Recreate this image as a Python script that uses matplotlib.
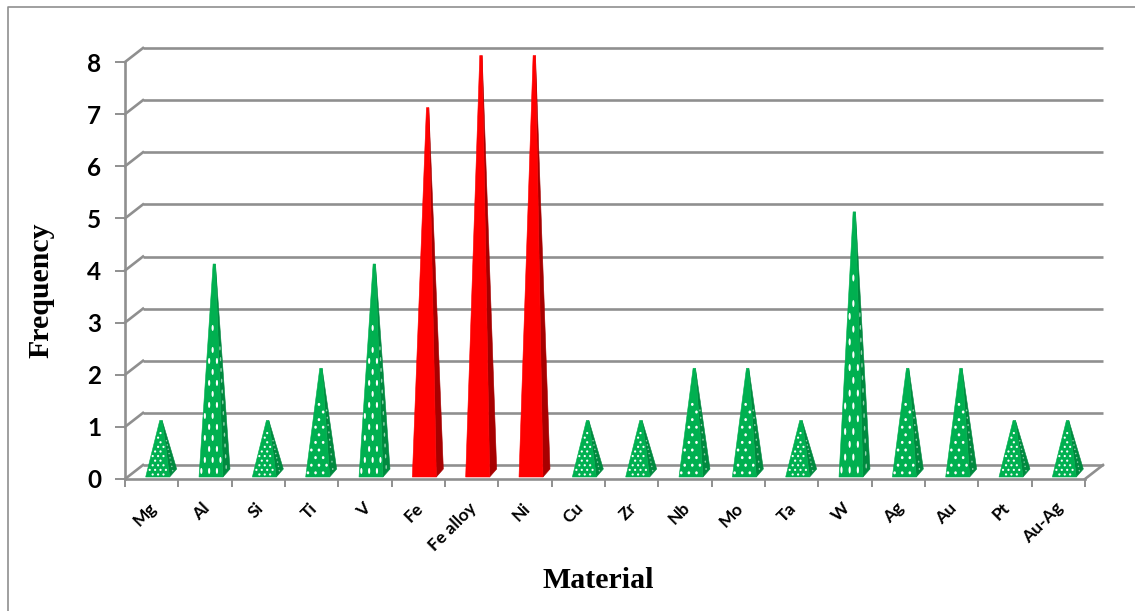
import matplotlib
matplotlib.use("Agg")
import matplotlib.pyplot as plt
from matplotlib.patches import Polygon, Ellipse
from matplotlib.lines import Line2D
from matplotlib.transforms import ScaledTranslation

materials = ["Mg", "Al", "Si", "Ti", "V", "Fe", "Fe alloy", "Ni", "Cu", "Zr", "Nb", "Mo",
             "Ta", "W", "Ag", "Au", "Pt", "Au-Ag"]
frequency = [1, 4, 1, 2, 4, 7, 8, 8, 1, 1, 2, 2, 1, 5, 2, 2, 1, 1]
highlighted = ["Fe", "Fe alloy", "Ni"]

W, H = 1135, 611
GREY = "#8f8f8f"
GREEN, GREEN_D = "#00b050", "#008a3f"
RED, RED_D = "#ff0000", "#a80000"

# white-dot fill: the pattern stretches with pyramid height
# value -> (row spacing, column spacing, dot width, dot height) in pixels
DOTS = {1: (4.6, 5.4, 2.2, 2.2), 2: (7.6, 7.6, 2.6, 3.0), 4: (11.0, 7.8, 2.2, 6.0), 5: (12.8, 8.2, 2.2, 7.0)}

fig = plt.figure(figsize=(W / 100, H / 100), dpi=100)
L, R, T, B = 125, 1085, 62, 479
ax = fig.add_axes([L / W, (H - B) / H, (R - L) / W, (B - T) / H])
ax.set_xlim(0, len(materials))
ax.set_ylim(0, 8)
ux = (R - L) / len(materials)   # px per category
uy = (B - T) / 8                # px per unit
DX, DY = 18 / ux, 14 / uy       # chart depth

for s in ("top", "right"):
    ax.spines[s].set_visible(False)
for s in ("left", "bottom"):
    ax.spines[s].set_color(GREY)
    ax.spines[s].set_linewidth(1.9)

# back wall grid and side wall links
for v in range(0, 9):
    ax.plot([DX, len(materials) + DX], [v + DY, v + DY], color=GREY, lw=1.9, clip_on=False, zorder=1, solid_capstyle="butt")
    ax.plot([0, DX], [v, v + DY], color=GREY, lw=1.9, clip_on=False, zorder=1)
ax.plot([len(materials), len(materials) + DX], [0, DY], color=GREY, lw=1.9, clip_on=False, zorder=1)

# pyramids
off, bw, sx, sy = 6 / ux, 24 / ux, 7 / ux, 8 / uy
for i, (name, v) in enumerate(zip(materials, frequency)):
    c = i + 0.5
    hot = name in highlighted
    fl, fr = c - bw / 2 + off, c + bw / 2 + off
    y0 = 2 / uy
    y1 = v + DY / 2 - 0.5 / uy
    ax_x = c + 9.3 / ux
    tip = 1.2 / ux
    fc, sc = (RED, RED_D) if hot else (GREEN, GREEN_D)
    side = Polygon([(fr, y0), (fr + sx, y0 + sy), (ax_x + tip, y1)], closed=True,
                   facecolor=sc, edgecolor=sc, lw=0.4, clip_on=False, zorder=3)
    front = Polygon([(fl, y0), (fr, y0), (ax_x + tip, y1), (ax_x - tip, y1)], closed=True,
                    facecolor=fc, edgecolor=fc, lw=0.4, clip_on=False, zorder=3)
    ax.add_patch(side)
    ax.add_patch(front)
    if hot:
        continue
    rs, cs, dw, dh = DOTS[v]
    dy = rs / uy
    r = 0
    yy = y0 + 0.55 * dy
    while (yy - y0) / (y1 - y0) < 0.80:
        frac = (yy - y0) / (y1 - y0)
        left = fl + (ax_x - tip - fl) * frac
        right = fr + (ax_x + tip - fr) * frac
        step = cs / ux
        xx = fl + (step * 0.75 if r % 2 else step * 0.3)
        while xx < fr:
            if left + 1.6 / ux < xx < right - 1.6 / ux:
                ax.add_patch(Ellipse((xx, yy), dw / ux, dh / uy, facecolor="white",
                                     edgecolor="none", clip_on=False, zorder=4))
            xx += step
        sl, sr = right, fr + sx + (ax_x + tip - fr - sx) * frac
        if sr - sl > 2.5 / ux:
            ax.add_patch(Ellipse(((sl + sr) / 2, yy + sy * (1 - frac) / 2), 1.5 / ux, dh * 0.7 / uy,
                                 facecolor="#8ed1ac", edgecolor="none", clip_on=False, zorder=4))
        yy += dy
        r += 1

ax.set_xticks(range(len(materials) + 1))
ax.set_xticklabels([])
ax.set_xticks([i + 0.5 for i in range(len(materials))], minor=True)
ax.set_xticklabels(materials, minor=True, rotation=45, ha="right", va="top", rotation_mode="anchor",
                   fontfamily="Lato", fontweight="bold", fontsize=12.5, color="black")
ax.tick_params(axis="x", which="major", length=6, width=1.4, color=GREY)
ax.tick_params(axis="x", which="minor", length=0, pad=15)
shift = ScaledTranslation(-3 / 100, 0, fig.dpi_scale_trans)
for t in ax.xaxis.get_minorticklabels():
    t.set_transform(t.get_transform() + shift)
ax.set_yticks(range(9))
ax.set_yticklabels([str(v) for v in range(9)], fontfamily="Lato", fontweight="bold", fontsize=17.5)
ax.tick_params(axis="y", length=7, width=1.4, color=GREY, pad=10)

fig.text(598 / W, 1 - 581 / H, "Material", family="Liberation Serif", fontweight="bold", fontsize=21.5,
         ha="center", va="center")
fig.text(41 / W, 1 - 290 / H, "Frequency", family="Liberation Serif", fontweight="bold", fontsize=21.5,
         rotation=90, ha="center", va="center")

# chart-area border (top and left only are inside the crop)
fig.add_artist(Line2D([8 / W, 8 / W, 1], [0, 1 - 7 / H, 1 - 7 / H], color=GREY, lw=1.2))

fig.savefig("out.png", dpi=100)
